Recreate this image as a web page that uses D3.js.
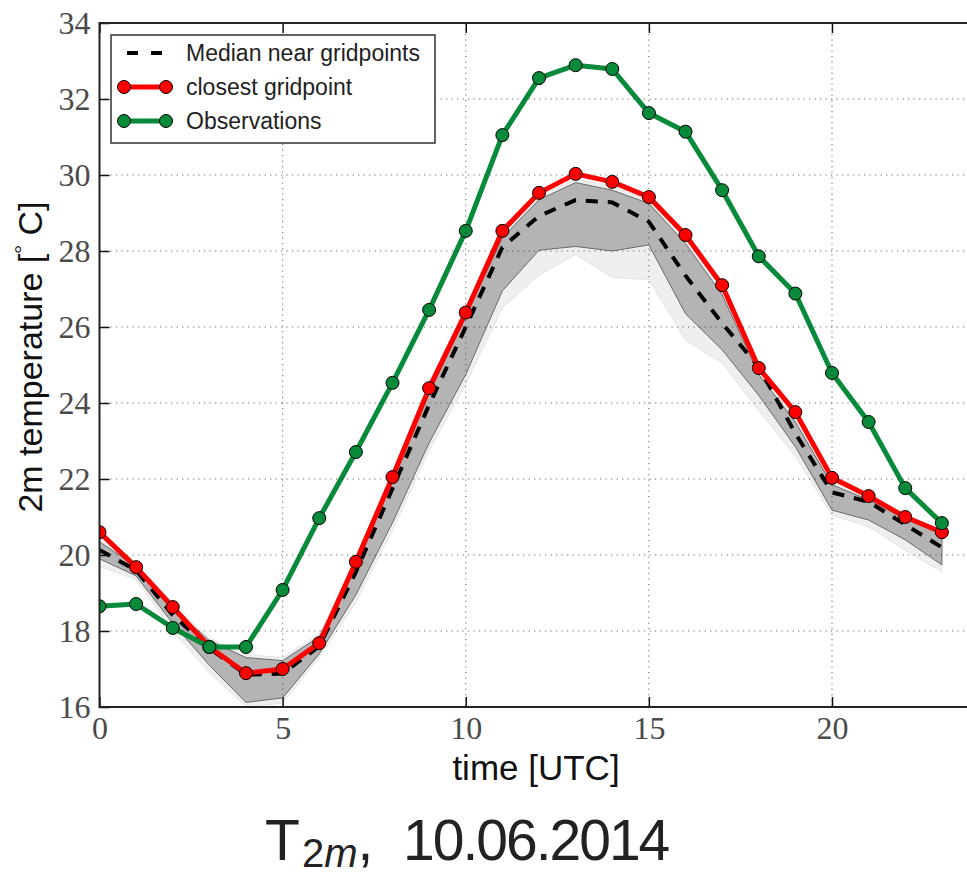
<!DOCTYPE html>
<html lang="en">

<head>
    <meta charset="UTF-8">
    <title>T2m 10.06.2014</title>
    <style>
        body {
            margin: 0;
            background: #fff;
        }

        svg {
            display: block;
        }
    </style>
</head>

<body>
    <div class="box"></div>
    <script src="https://d3js.org/d3.v7.min.js"></script>

    <script>
        // hours (UTC)
        const hours = [0, 1, 2, 3, 4, 5, 6, 7, 8, 9, 10, 11, 12, 13, 14, 15, 16, 17, 18, 19, 20, 21, 22, 23];

        // Observations
        const observations = [18.65, 18.71, 18.08, 17.58, 17.58, 19.08, 20.97, 22.71, 24.53, 26.45, 28.53, 31.05,
            32.55, 32.89, 32.79, 31.63, 31.14, 29.6, 27.86, 26.88, 24.79, 23.5, 21.76, 20.84];

        // closest gridpoint
        const closest = [20.6, 19.68, 18.63, 17.58, 16.89, 17.0, 17.68, 19.82, 22.05, 24.39, 26.38, 28.53,
            29.53, 30.03, 29.82, 29.42, 28.42, 27.1, 24.92, 23.76, 22.03, 21.55, 21.0, 20.6];

        // Median near gridpoints
        const median = [20.13, 19.6, 18.42, 17.55, 16.85, 16.88, 17.6, 19.55, 21.75, 23.95, 26.0, 28.1,
            28.92, 29.34, 29.28, 28.77, 27.35, 26.1, 24.95, 23.2, 21.65, 21.4, 20.8, 20.2];

        // inner band (dark gray)
        const innerHigh = [20.35, 19.7, 18.6, 17.75, 17.3, 17.22, 17.85, 19.75, 21.95, 24.25, 26.3, 28.35,
            29.35, 29.8, 29.6, 29.25, 28.2, 26.85, 24.75, 23.5, 21.85, 21.45, 20.95, 20.55];
        const innerLow = [19.9, 19.45, 18.2, 17.1, 16.12, 16.24, 17.4, 18.95, 20.85, 22.95, 24.75, 26.95,
            28.02, 28.12, 28.0, 28.16, 26.35, 25.4, 24.2, 22.85, 21.18, 20.92, 20.4, 19.74];

        // outer band (light gray)
        const outerHigh = [20.45, 19.78, 18.68, 17.82, 17.38, 17.3, 17.92, 19.85, 22.05, 24.35, 26.4, 28.45,
            29.45, 29.9, 29.7, 29.35, 28.3, 26.95, 24.85, 23.6, 21.95, 21.55, 21.05, 20.65];
        const outerLow = [19.7, 19.35, 18.0, 16.9, 16.0, 16.1, 17.3, 18.75, 20.65, 22.75, 24.5, 26.5,
            27.37, 27.9, 27.3, 27.25, 25.65, 25.05, 23.8, 22.6, 21.05, 20.74, 20.13, 19.55];

        const xTicks = [0, 5, 10, 15, 20];
        const yTicks = [16, 18, 20, 22, 24, 26, 28, 30, 32, 34];

        const legendItems = ["Median near gridpoints", "closest gridpoint", "Observations"];

        const GREEN = "#078a3a";
        const RED = "#ff0000";

        const svg = d3.select(".box").append("svg")
            .attr("width", 967)
            .attr("height", 873);

        const margin = { top: 23, left: 99.5 };
        const innerWidth = 879;
        const innerHeight = 684;

        const x = d3.scaleLinear().domain([0, 24]).range([margin.left, margin.left + innerWidth]);
        const y = d3.scaleLinear().domain([16, 34]).range([margin.top + innerHeight, margin.top]);

        // 数据表
        const rows = hours.map((h, i) => ({
            h,
            obs: observations[i],
            cl: closest[i],
            med: median[i],
            iHi: innerHigh[i], iLo: innerLow[i],
            oHi: outerHigh[i], oLo: outerLow[i]
        }));

        svg.append("clipPath").attr("id", "plot-clip")
            .append("rect")
            .attr("x", margin.left).attr("y", margin.top)
            .attr("width", innerWidth).attr("height", innerHeight);

        const plot = svg.append("g").attr("clip-path", "url(#plot-clip)");

        // bands
        const area = (hi, lo) => d3.area().x(d => x(d.h)).y0(d => y(d[lo])).y1(d => y(d[hi]));

        plot.append("path")
            .datum(rows)
            .attr("d", area("oHi", "oLo"))
            .attr("fill", "#efefef")
            .attr("stroke", "#e4e4e4")
            .attr("stroke-width", 1);

        plot.append("path")
            .datum(rows)
            .attr("d", area("iHi", "iLo"))
            .attr("fill", "#b4b4b4")
            .attr("stroke", "#6a6a6a")
            .attr("stroke-width", 1);

        // grid
        const grid = svg.append("g").attr("class", "grid");
        grid.selectAll(".gx").data(xTicks.filter(t => t > 0)).join("line")
            .attr("x1", d => x(d)).attr("x2", d => x(d))
            .attr("y1", margin.top).attr("y2", margin.top + innerHeight);
        grid.selectAll(".gy").data(yTicks.filter(t => t > 16 && t < 34)).join("line")
            .attr("x1", margin.left).attr("x2", margin.left + innerWidth)
            .attr("y1", d => y(d)).attr("y2", d => y(d));
        grid.selectAll("line")
            .attr("stroke", "#333")
            .attr("stroke-width", 1)
            .attr("stroke-dasharray", "1.2,4.3")
            .attr("opacity", 0.75);

        // lines
        const line = key => d3.line().x(d => x(d.h)).y(d => y(d[key]));

        plot.append("path")
            .datum(rows)
            .attr("d", line("med"))
            .attr("fill", "none")
            .attr("stroke", "#000")
            .attr("stroke-width", 4)
            .attr("stroke-dasharray", "12,10");

        const series = [
            { key: "cl", color: RED },
            { key: "obs", color: GREEN }
        ];

        series.forEach(s => {
            plot.append("path")
                .datum(rows)
                .attr("d", line(s.key))
                .attr("fill", "none")
                .attr("stroke", s.color)
                .attr("stroke-width", 5)
                .attr("stroke-linejoin", "round");

            plot.selectAll(".m-" + s.key).data(rows).join("circle")
                .attr("cx", d => x(d.h))
                .attr("cy", d => y(d[s.key]))
                .attr("r", 6.5)
                .attr("fill", s.color)
                .attr("stroke", "#000")
                .attr("stroke-width", 1);
        });

        // axes (ticks inward)
        const fmt = d3.format("d");
        const styleAxis = g => {
            g.select(".domain").remove();
            g.selectAll(".tick line").attr("stroke", "#111").attr("stroke-width", 1.5);
            g.selectAll(".tick text")
                .attr("font-family", "'Liberation Serif', 'DejaVu Serif', serif")
                .attr("font-size", 32)
                .attr("fill", "#4a4a4a");
        };
        // top / right: only tick marks
        const marksOnly = g => {
            g.select(".domain").remove();
            g.selectAll(".tick text").remove();
            g.selectAll(".tick line").attr("stroke", "#111").attr("stroke-width", 1.5);
        };

        svg.append("g")
            .attr("transform", `translate(0, ${margin.top + innerHeight})`)
            .call(d3.axisBottom(x).tickValues(xTicks).tickFormat(fmt).tickSizeInner(-10).tickSizeOuter(0).tickPadding(9))
            .call(styleAxis);

        svg.append("g")
            .attr("transform", `translate(0, ${margin.top})`)
            .call(d3.axisTop(x).tickValues(xTicks).tickSizeInner(-10).tickSizeOuter(0))
            .call(marksOnly);

        svg.append("g")
            .attr("transform", `translate(${margin.left}, 0)`)
            .call(d3.axisLeft(y).tickValues(yTicks).tickFormat(fmt).tickSizeInner(-10).tickSizeOuter(0).tickPadding(9))
            .call(styleAxis);

        svg.append("g")
            .attr("transform", `translate(${margin.left + innerWidth}, 0)`)
            .call(d3.axisRight(y).tickValues(yTicks).tickSizeInner(-10).tickSizeOuter(0))
            .call(marksOnly);

        // frame
        svg.append("rect")
            .attr("x", margin.left).attr("y", margin.top)
            .attr("width", innerWidth).attr("height", innerHeight)
            .attr("fill", "none")
            .attr("stroke", "#222")
            .attr("stroke-width", 2);

        // axis labels
        svg.append("text")
            .attr("x", x(12) - 3)
            .attr("y", 780)
            .attr("text-anchor", "middle")
            .attr("font-family", "'Liberation Sans', Arial, sans-serif")
            .attr("font-size", 35)
            .attr("fill", "#111")
            .text("time [UTC]");

        const yl = svg.append("text")
            .attr("transform", "translate(42, 357) rotate(-90)")
            .attr("text-anchor", "middle")
            .attr("font-family", "'Liberation Sans', Arial, sans-serif")
            .attr("font-size", 34)
            .attr("fill", "#111");
        yl.append("tspan").text("2m temperature [");
        yl.append("tspan")
            .attr("font-family", "'Liberation Serif', serif")
            .attr("font-size", 22)
            .attr("dy", -13)
            .text("°");
        yl.append("tspan").attr("dy", 13).text(" C]");

        // legend
        const legend = svg.append("g").attr("class", "legend");
        legend.append("rect")
            .attr("x", 111).attr("y", 35)
            .attr("width", 324).attr("height", 108)
            .attr("fill", "#fff")
            .attr("stroke", "#333")
            .attr("stroke-width", 1.5);

        const ly = d3.scalePoint().domain(legendItems).range([53, 121]);

        legendItems.forEach((name, i) => {
            const yy = ly(name);
            const g = legend.append("g");
            if (i === 0) {
                g.append("line")
                    .attr("x1", 127).attr("x2", 166)
                    .attr("y1", yy).attr("y2", yy)
                    .attr("stroke", "#000")
                    .attr("stroke-width", 4)
                    .attr("stroke-dasharray", "11,13");
            } else {
                const c = i === 1 ? RED : GREEN;
                g.append("line")
                    .attr("x1", 124).attr("x2", 166)
                    .attr("y1", yy).attr("y2", yy)
                    .attr("stroke", c)
                    .attr("stroke-width", 5);
                g.selectAll("circle").data([124, 166]).join("circle")
                    .attr("cx", d => d).attr("cy", yy)
                    .attr("r", 6.5)
                    .attr("fill", c)
                    .attr("stroke", "#000")
                    .attr("stroke-width", 1);
            }
            g.append("text")
                .attr("x", 186)
                .attr("y", yy + 8)
                .attr("font-family", "'Liberation Sans', Arial, sans-serif")
                .attr("font-size", 23)
                .attr("fill", "#222")
                .text(name);
        });

        // title
        const title = svg.append("text")
            .attr("x", 265)
            .attr("y", 860)
            .attr("font-family", "'Liberation Sans', Arial, sans-serif")
            .attr("font-size", 57)
            .attr("fill", "#222");
        title.append("tspan").text("T");
        title.append("tspan").attr("x", 302).attr("dy", 7).attr("font-size", 40).text("2");
        title.append("tspan").attr("font-size", 40).attr("font-style", "italic").text("m");
        title.append("tspan").attr("dy", -7).text(",");
        title.append("tspan").attr("x", 403).attr("letter-spacing", -2).text("10.06.2014");
    </script>
</body>

</html>
